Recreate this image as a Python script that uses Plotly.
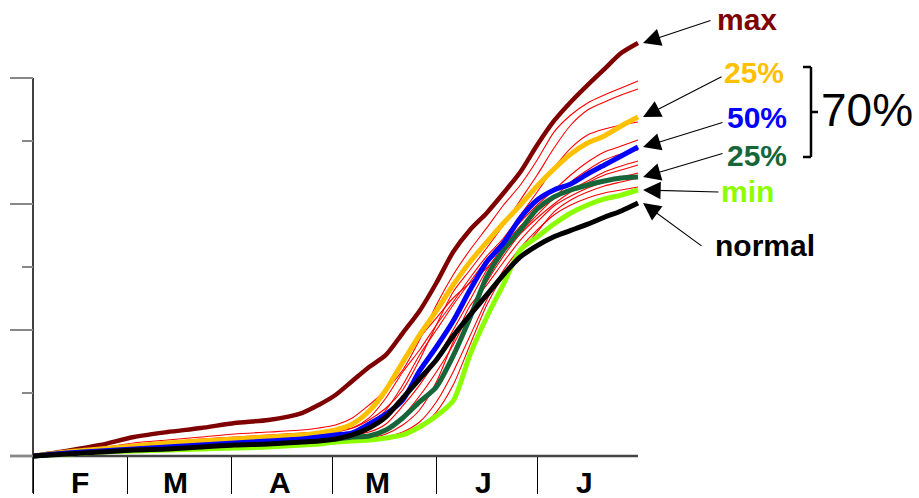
import plotly.graph_objects as go

# ---------------- data ----------------
days = [0, 10, 20, 30, 40, 50, 60, 70, 80, 85, 90, 95, 100, 105, 110, 115,
        120, 125, 130, 135, 140, 145, 150, 155, 160, 165, 170, 175, 180]

max_v = [0, 4.0, 8.7, 15.1, 19.0, 22.2, 26.2, 28.6, 34.1, 40.5, 48.4, 59.5, 70.6, 80.2, 97.6, 115.1,
         137.3, 161.9, 179.4, 192.9, 208.7, 225.4, 246.8, 265.9, 281.0, 294.4, 307.1, 319.8, 327.8]
upper25 = [0, 3.2, 5.6, 7.9, 10.3, 11.9, 13.5, 15.1, 16.7, 18.3, 20.6, 25.4, 35.7, 52.4, 74.6, 96.0,
           115.1, 135.7, 154.0, 169.8, 184.9, 199.2, 214.3, 227.8, 239.7, 248.4, 254.0, 261.9, 269.0]
median = [0, 2.4, 4.0, 5.6, 7.1, 8.7, 10.3, 11.9, 13.5, 15.1, 16.7, 18.3, 25.4, 33.3, 44.4, 67.5,
          86.5, 107.1, 131.7, 154.0, 169.0, 188.9, 203.2, 211.1, 215.9, 223.8, 231.0, 238.1, 245.2]
lower25 = [0, 2.4, 4.0, 5.6, 6.3, 7.9, 9.5, 10.3, 11.9, 12.7, 13.5, 15.1, 15.9, 20.6, 30.2, 42.9,
           54.8, 79.4, 109.5, 142.1, 163.5, 179.4, 196.0, 205.6, 211.1, 215.1, 218.3, 220.6, 221.4]
min_v = [0, 1.6, 3.2, 4.0, 4.8, 5.6, 6.3, 7.1, 8.7, 9.5, 11.1, 11.9, 12.7, 14.3, 16.7, 23.0,
         31.7, 43.7, 80.2, 110.3, 136.5, 163.5, 173.8, 184.1, 192.9, 199.2, 204.0, 207.1, 211.1]
normal = [0, 1.6, 3.2, 4.8, 5.6, 7.1, 8.7, 9.5, 11.1, 11.9, 13.5, 16.7, 22.2, 31.0, 46.0, 61.1,
          76.2, 95.2, 111.9, 127.8, 144.0, 158.0, 167.0, 174.0, 179.0, 184.0, 189.5, 194.5, 200.8]

year_1 = [0, 3.2, 6.3, 10.3, 12.7, 15.1, 17.5, 19.0, 20.6, 22.2, 24.6, 30.2, 40.5, 52.4, 68.3, 92.1,
          119.8, 143.7, 163.5, 181.0, 199.2, 215.1, 234.9, 257.1, 270.6, 280.2, 286.5, 292.1, 297.6]
year_2 = [0, 2.4, 5.6, 8.7, 11.1, 13.5, 15.1, 16.7, 18.3, 19.0, 20.6, 22.2, 28.6, 38.1, 52.4, 76.2,
          104.0, 130.2, 147.6, 165.1, 183.3, 203.2, 223.0, 244.4, 262.7, 274.6, 281.0, 286.5, 291.3]
year_3 = [0, 1.6, 4.8, 7.1, 8.7, 11.1, 12.7, 14.3, 15.9, 17.5, 19.0, 22.2, 30.2, 46.0, 66.7, 84.1,
          104.0, 122.2, 141.3, 158.7, 173.0, 191.3, 209.5, 228.6, 244.4, 254.8, 259.5, 262.7, 265.1]
year_4 = [0, 2.4, 4.8, 6.3, 7.9, 9.5, 11.1, 12.7, 14.3, 15.1, 16.7, 19.0, 24.6, 36.5, 56.3, 80.2,
          100.0, 119.8, 138.1, 155.6, 171.4, 185.7, 199.2, 211.1, 223.0, 233.3, 241.3, 246.0, 250.8]
year_5 = [0, 1.6, 4.0, 5.6, 7.1, 8.7, 10.3, 11.9, 13.5, 14.3, 15.1, 16.7, 19.0, 25.4, 39.7, 56.3,
          76.2, 100.0, 123.8, 147.6, 166.7, 182.5, 194.4, 204.0, 211.1, 218.3, 225.4, 230.2, 234.1]
year_6 = [0, 1.6, 3.2, 4.8, 6.3, 7.9, 9.5, 11.1, 12.7, 13.5, 14.3, 15.1, 15.9, 20.6, 31.7, 47.6,
          66.7, 88.1, 114.3, 138.1, 158.7, 176.2, 188.9, 200.0, 209.5, 216.7, 223.0, 227.0, 231.0]
year_7 = [0, 1.6, 3.2, 4.8, 5.6, 7.1, 8.7, 9.5, 11.1, 11.9, 12.7, 13.5, 14.3, 17.5, 24.6, 36.5,
          58.7, 90.5, 119.0, 135.7, 154.0, 171.4, 185.7, 198.4, 206.3, 212.7, 217.5, 221.4, 224.6]
year_8 = [0, 0.8, 2.4, 4.0, 5.6, 6.3, 7.9, 8.7, 10.3, 11.1, 11.9, 12.7, 13.5, 15.1, 19.0, 27.0,
          42.9, 66.7, 95.2, 123.8, 147.6, 165.1, 179.4, 191.3, 199.2, 204.8, 208.7, 211.1, 213.5]
year_9 = [0, 0.8, 2.4, 3.2, 4.8, 5.6, 7.1, 7.9, 9.5, 10.3, 11.1, 11.9, 12.7, 14.3, 16.7, 22.2,
          34.9, 56.3, 88.1, 119.8, 143.7, 161.9, 177.8, 193.7, 203.2, 209.5, 214.3, 217.5, 220.6]
year_10 = [0, 2.4, 4.8, 7.1, 9.5, 11.1, 12.7, 14.3, 16.7, 18.3, 20.6, 25.4, 34.9, 50.8, 72.2, 93.7,
           109.5, 125.4, 137.3, 149.2, 163.5, 177.8, 191.3, 204.8, 217.5, 227.0, 234.9, 239.7, 242.9]
years = [year_1, year_2, year_3, year_4, year_5, year_6, year_7, year_8, year_9, year_10]

months = ["F", "M", "A", "M", "J", "J"]
month_starts = [0, 28, 59, 89, 120, 150]
month_label_days = [14, 42.5, 73.5, 102.6, 134, 164]
y_major = [0, 100, 200, 300]
y_minor = [50, 150, 250]

# ---------------- geometry ----------------
# body margin is removed by a post-script, so the figure fills the page from (0, 0)
W, H = 919, 498
X0, Y0 = 33, 456          # pixel position of (day 0, value 0)
PX_PER_DAY = 605 / 180
PX_PER_UNIT = 1.26
x_range = [-X0 / PX_PER_DAY, (W - X0) / PX_PER_DAY]
y_range = [-(H - Y0) / PX_PER_UNIT, Y0 / PX_PER_UNIT]


def paper(xp, yp):
    """pixel -> paper fraction"""
    return xp / W, 1 - yp / H


C_MAX = "#7f0000"
C_UP = "#ffc000"
C_MED = "#0000ff"
C_LOW = "#17663a"
C_MIN = "#8cff00"
C_NORM = "#000000"

fig = go.Figure()

for yv in years:
    fig.add_trace(go.Scatter(x=days, y=yv, mode="lines",
                             line=dict(color="#ff0000", width=1.1, shape="spline", smoothing=0.7),
                             hoverinfo="skip"))

for vals, col, w in [(max_v, C_MAX, 4.5), (min_v, C_MIN, 5), (lower25, C_LOW, 5),
                     (upper25, C_UP, 5), (median, C_MED, 5), (normal, C_NORM, 5)]:
    fig.add_trace(go.Scatter(x=days, y=vals, mode="lines",
                             line=dict(color=col, width=w, shape="spline", smoothing=0.7)))

shapes = []
# y-axis line continuing down as the first month separator
shapes.append(dict(type="line", xref="x", yref="y", x0=0, x1=0, y0=y_major[-1],
                   y1=-(493 - Y0) / PX_PER_UNIT, line=dict(color="black", width=1.5), layer="below"))
# x-axis line
shapes.append(dict(type="line", xref="x", yref="y", x0=-(X0 - 10) / PX_PER_DAY, x1=days[-1],
                   y0=0, y1=0, line=dict(color="#444444", width=2.5), layer="below"))

# bracket for 70%
bx, btop, bbot, bmid = 811, 67, 157, 112
for (x0p, y0p, x1p, y1p) in [(bx, btop, bx, bbot), (803, btop, bx, btop), (803, bbot, bx, bbot),
                             (bx, bmid, 818, bmid)]:
    a = paper(x0p, y0p)
    b = paper(x1p, y1p)
    shapes.append(dict(type="line", xref="paper", yref="paper", x0=a[0], y0=a[1], x1=b[0], y1=b[1],
                       line=dict(color="black", width=2.5)))

annotations = []
for lab, d in zip(months, month_label_days):
    annotations.append(dict(x=d, y=-(482 - Y0) / PX_PER_UNIT, xref="x", yref="y", text=lab,
                            showarrow=False, font=dict(family="Liberation Sans, Arial", size=30,
                                                       color="black", weight="bold"),
                            xanchor="center", yanchor="middle", borderpad=0))

# arrows from labels to line ends
tip_day = days[-1] + 1.5
tip_px_x = X0 + tip_day * PX_PER_DAY
arrow_specs = [(max_v, 712, 20), (upper25, 723, 76), (median, 724, 122),
               (lower25, 724, 153), (min_v, 720, 192), (normal, 703, 247)]
for vals, tx, ty in arrow_specs:
    tip_py = Y0 - vals[-1] * PX_PER_UNIT
    annotations.append(dict(x=tip_day, y=vals[-1], xref="x", yref="y", text="", showarrow=True,
                            ax=tx - tip_px_x, ay=ty - tip_py, arrowhead=2, arrowsize=3.2,
                            arrowwidth=1.1, arrowcolor="black", standoff=0))

labels = [("max", C_MAX, 747, 19), ("25%", C_UP, 754, 72), ("50%", C_MED, 757, 117),
          ("25%", C_LOW, 757, 155), ("min", C_MIN, 747, 191), ("normal", "black", 765, 246)]
for t, col, xp, yp in labels:
    p = paper(xp, yp)
    annotations.append(dict(x=p[0], y=p[1], xref="paper", yref="paper", text=t, showarrow=False,
                            font=dict(family="Liberation Sans, Arial", size=30, color=col, weight="bold"),
                            xanchor="center", yanchor="middle", borderpad=0))
p = paper(867, 110)
annotations.append(dict(x=p[0], y=p[1], xref="paper", yref="paper", text="70%", showarrow=False,
                        font=dict(family="Liberation Sans, Arial", size=46, color="black"),
                        xanchor="center", yanchor="middle", borderpad=0))

fig.update_layout(
    width=W, height=H, autosize=False,
    margin=dict(l=0, r=0, t=0, b=0),
    paper_bgcolor="white", plot_bgcolor="white",
    showlegend=False, hovermode=False,
    shapes=shapes, annotations=annotations,
    xaxis=dict(range=x_range, showgrid=False, zeroline=False, showline=False,
               anchor="free", position=(H - Y0) / H,
               tickmode="array", tickvals=month_starts, ticks="outside", ticklen=37,
               tickwidth=1, tickcolor="black", showticklabels=False),
    yaxis=dict(range=y_range, showgrid=False, zeroline=False, showline=False,
               anchor="free", position=X0 / W,
               tickmode="array", tickvals=y_major, ticks="outside", ticklen=23,
               tickwidth=2, tickcolor="#888888", showticklabels=False,
               minor=dict(tickmode="array", tickvals=y_minor, ticks="outside", ticklen=11,
                          tickwidth=2, tickcolor="#888888", showgrid=False)),
)

fig.write_html("out.html",
               config={"displayModeBar": False, "staticPlot": True},
               post_script="document.body.style.margin='0px';document.body.style.overflow='hidden';")
